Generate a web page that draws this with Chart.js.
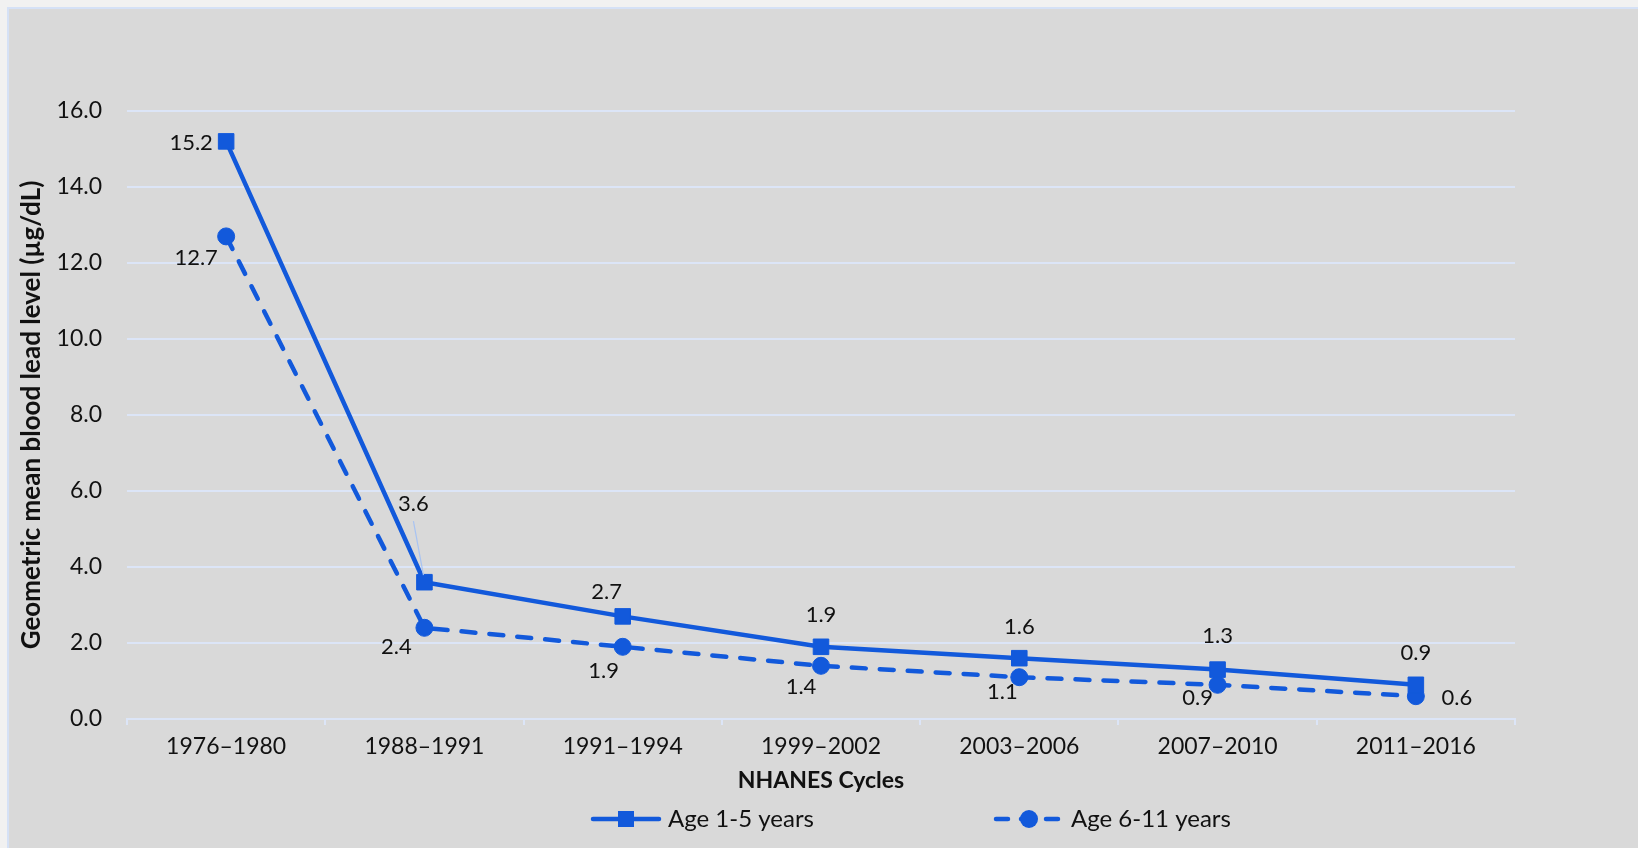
<!DOCTYPE html>
<html>
<head>
<meta charset="utf-8">
<script src="https://cdn.jsdelivr.net/npm/chart.js@4/dist/chart.umd.min.js"></script>
<style>
  html, body { margin: 0; padding: 0; width: 1638px; height: 848px; overflow: hidden; background: #f1f1f1; }
  #panel { position: absolute; left: 7px; top: 7px; width: 1640px; height: 850px; background: #d9d9d9; border: 2px solid #d5e1f6; box-sizing: border-box; }
  #c { position: absolute; left: 0; top: 0; }
</style>
</head>
<body>
<div id="panel"></div>
<canvas id="c" width="1638" height="848"></canvas>
<script>
// NHANES survey cycles and geometric mean blood lead levels (µg/dL)
const cycles = ['1976–1980', '1988–1991', '1991–1994', '1999–2002', '2003–2006', '2007–2010', '2011–2016'];
const age1to5 = [15.2, 3.6, 2.7, 1.9, 1.6, 1.3, 0.9];
const age6to11 = [12.7, 2.4, 1.9, 1.4, 1.1, 0.9, 0.6];
const yMin = 0;
const yMax = 16;
const yStep = 2;

const BLUE = '#1259db';
const GRID = '#dce5f7';
const FONT = 'Lato, Carlito, "Noto Sans", sans-serif';

// Label placement relative to each point (dx, dy in px), one row per series
const labelOffsets = [
  [[-35, 1], [-11, -79], [-16, -25], [0, -33], [0, -32], [0, -35], [0, -33]],
  [[-30, 21], [-28, 18], [-19, 23], [-20, 20], [-17, 14], [-20, 12], [41, 1]]
];

// Value labels drawn next to each marker
const valueLabels = {
  id: 'valueLabels',
  afterDatasetsDraw(chart, args, opts) {
    const ctx = chart.ctx;
    ctx.save();
    ctx.font = opts.size + 'px ' + FONT;
    ctx.fillStyle = opts.color;
    ctx.textAlign = 'center';
    ctx.textBaseline = 'alphabetic';
    const capHalf = opts.size * 0.36;
    chart.data.datasets.forEach((ds, di) => {
      const meta = chart.getDatasetMeta(di);
      meta.data.forEach((pt, i) => {
        const [dx, dy] = opts.offsets[di][i];
        const tx = pt.x + dx, ty = pt.y + dy;
        if (opts.leaders.some(([d, k]) => d === di && k === i)) {
          ctx.save();
          ctx.strokeStyle = opts.leaderColor;
          ctx.lineWidth = 1.2;
          ctx.beginPath();
          ctx.moveTo(tx, ty + 18);
          ctx.lineTo(pt.x - 1, pt.y - 7);
          ctx.stroke();
          ctx.restore();
        }
        ctx.fillText(ds.data[i].toFixed(1), tx, ty + capHalf);
      });
    });
    ctx.restore();
  }
};

// Legend with a line sample and marker for each series
const lineLegend = {
  id: 'lineLegend',
  afterDraw(chart, args, opts) {
    const ctx = chart.ctx;
    ctx.save();
    ctx.font = opts.size + 'px ' + FONT;
    ctx.fillStyle = opts.color;
    ctx.textBaseline = 'middle';
    chart.data.datasets.forEach((ds, di) => {
      const x0 = opts.starts[di];
      const y = opts.y;
      const w = opts.sampleWidth;
      ctx.save();
      ctx.strokeStyle = ds.borderColor;
      ctx.lineWidth = ds.borderWidth;
      ctx.lineCap = 'round';
      ctx.setLineDash(ds.borderDash && ds.borderDash.length ? [12, 13] : []);
      ctx.beginPath();
      ctx.moveTo(x0 + 2, y);
      ctx.lineTo(x0 + w - 2, y);
      ctx.stroke();
      ctx.setLineDash([]);
      ctx.fillStyle = ds.pointBackgroundColor;
      const cx = x0 + w / 2;
      if (ds.pointStyle === 'rect') {
        ctx.fillRect(cx - 8, y - 8, 16, 16);
      } else {
        ctx.beginPath();
        ctx.arc(cx, y, 9, 0, Math.PI * 2);
        ctx.fill();
      }
      ctx.restore();
      ctx.fillText(ds.label, x0 + w + 7, y);
    });
    ctx.restore();
  }
};

new Chart(document.getElementById('c'), {
  type: 'line',
  data: {
    labels: cycles,
    datasets: [
      {
        label: 'Age 1-5 years',
        data: age1to5,
        borderColor: BLUE,
        backgroundColor: BLUE,
        borderWidth: 4.5,
        pointStyle: 'rect',
        pointRadius: 11,
        pointHoverRadius: 11,
        pointBackgroundColor: BLUE,
        pointBorderColor: BLUE,
        pointBorderWidth: 1,
        tension: 0
      },
      {
        label: 'Age 6-11 years',
        data: age6to11,
        borderColor: BLUE,
        backgroundColor: BLUE,
        borderWidth: 4.5,
        borderDash: [14, 14],
        borderCapStyle: 'round',
        pointStyle: 'circle',
        pointRadius: 8.5,
        pointHoverRadius: 8.5,
        pointBackgroundColor: BLUE,
        pointBorderColor: BLUE,
        pointBorderWidth: 1,
        tension: 0
      }
    ]
  },
  options: {
    responsive: false,
    animation: false,
    layout: { padding: { left: 0, top: 111, right: 123, bottom: 49 } },
    plugins: {
      legend: { display: false },
      tooltip: { enabled: false },
      valueLabels: {
        size: 22,
        color: '#111111',
        offsets: labelOffsets,
        leaders: [[0, 1]],
        leaderColor: '#a8c3f2'
      },
      lineLegend: {
        size: 24,
        color: '#111111',
        starts: [591, 994],
        y: 819,
        sampleWidth: 70
      }
    },
    scales: {
      x: {
        offset: true,
        afterFit(scale) { scale.height = 80; },
        grid: { offset: true, drawOnChartArea: false, drawTicks: true, tickLength: 6, color: GRID, lineWidth: 2 },
        border: { display: true, color: GRID, width: 2 },
        ticks: { color: '#111111', font: { family: FONT, size: 23 }, padding: 8, maxRotation: 0 },
        title: {
          display: true,
          text: 'NHANES Cycles',
          color: '#111111',
          font: { family: FONT, size: 23, weight: 'bold' },
          padding: { top: 0, bottom: 5 }
        }
      },
      y: {
        min: yMin,
        max: yMax,
        afterFit(scale) { scale.width = 127; },
        grid: { color: GRID, lineWidth: 2, drawTicks: false },
        border: { display: false },
        ticks: {
          stepSize: yStep,
          color: '#111111',
          font: { family: FONT, size: 23 },
          padding: 25,
          callback: v => Number(v).toFixed(1)
        },
        title: {
          display: true,
          text: 'Geometric mean blood lead level (µg/dL)',
          color: '#111111',
          font: { family: FONT, size: 26, weight: 'bold' },
          padding: { top: 16, bottom: 0 }
        }
      }
    }
  },
  plugins: [valueLabels, lineLegend]
});
</script>
</body>
</html>
